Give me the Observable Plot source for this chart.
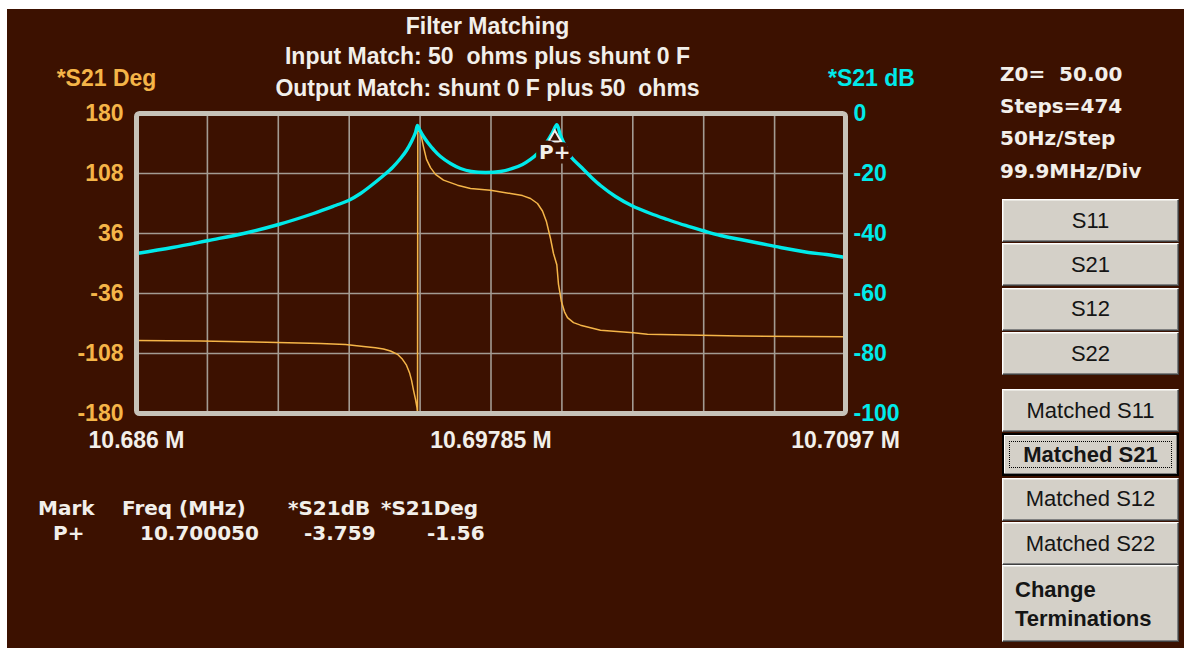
<!DOCTYPE html>
<html>
<head>
<meta charset="utf-8">
<script src="https://cdn.jsdelivr.net/npm/d3@7"></script>
<script src="https://cdn.jsdelivr.net/npm/@observablehq/plot@0.6"></script>
<style>
  body { margin: 0; background: #ffffff; width: 1184px; height: 648px; overflow: hidden; position: relative; }
  #panel { position: absolute; left: 7px; top: 9px; width: 1177px; height: 639px; background: #3c1100; }
  #chart { position: absolute; left: 0; top: 0; }
  #chart svg { display: block; }
  #chart text { white-space: pre; }
  .info { position: absolute; left: 1000px; font: bold 20px "DejaVu Sans"; color: #f2efea; white-space: pre; line-height: 1; }
  .cell { position: absolute; font: bold 20px "DejaVu Sans"; color: #f2efea; white-space: pre; line-height: 1; }
  .btn {
    position: absolute; left: 1002px; width: 177px; box-sizing: border-box;
    background: #d4d0c8; color: #151515; font: 22px "Liberation Sans";
    border-top: 1px solid #ffffff; border-left: 1px solid #ffffff;
    border-right: 1px solid #404040; border-bottom: 1px solid #404040;
    box-shadow: inset -1px -1px #808080, inset 1px 1px #e8e6e0;
    display: flex; align-items: center; justify-content: center;
  }
  .btn.focus { border: 2px solid #000; font-weight: bold; box-shadow: inset -1px -1px #808080, inset 1px 1px #ffffff; }
  .btn.focus::after { content: ""; position: absolute; left: 5px; right: 5px; top: 6px; bottom: 6px; border: 1px dotted #000; }
  .btn.wide { justify-content: flex-start; padding-left: 12px; font-weight: bold; line-height: 29px; }
</style>
</head>
<body>
<div id="panel"></div>
<div id="chart"></div>
<script>
// Sweep: 10.686 MHz .. 10.7097 MHz, 474 steps of 50 Hz
const freqStart = 10.686;
const freqStop = 10.7097;
const xTickValues = [10.686, 10.69785, 10.7097];
const degTicks = [180, 108, 36, -36, -108, -180];
const dbTicks = [0, -20, -40, -60, -80, -100];

// *S21 magnitude (dB)
const dbFreq = [
  10.686000, 10.687203, 10.688407, 10.689577, 10.690747, 10.691917, 10.692652,
  10.693087, 10.693488, 10.693889, 10.694257, 10.694557, 10.694825, 10.695025,
  10.695193, 10.695326, 10.695393, 10.695460, 10.695594, 10.695761, 10.695928,
  10.696162, 10.696496, 10.696830, 10.697198, 10.697666, 10.698168, 10.698569,
  10.698903, 10.699170, 10.699404, 10.699605, 10.699772, 10.699906, 10.700050,
  10.700173, 10.700340, 10.700541, 10.700842, 10.701176, 10.701510, 10.702012,
  10.702547, 10.703182, 10.703750, 10.704352, 10.704920, 10.705522, 10.706190,
  10.706859, 10.707527, 10.708463, 10.709065, 10.709700
];
const dbValue = [
  -46.67, -44.67, -42.33, -40.0, -37.0, -33.33, -30.67,
  -29.0, -26.67, -23.67, -20.67, -18.0, -15.0, -12.33,
  -9.33, -6.33, -4.0, -5.33, -7.67, -10.0, -12.0,
  -14.33, -16.67, -18.33, -19.33, -19.67, -19.33, -18.33,
  -17.0, -15.33, -13.33, -11.0, -8.67, -6.33, -3.759,
  -7.33, -11.0, -14.67, -17.67, -21.0, -24.0, -27.67,
  -30.67, -33.33, -35.33, -37.33, -39.0, -40.67, -42.0,
  -43.33, -44.67, -46.33, -47.0, -48.0
];

// *S21 phase (degrees)
const degFreq = [
  10.686000, 10.688139, 10.690346, 10.692151, 10.692986, 10.693588, 10.693989,
  10.694256, 10.694491, 10.694724, 10.694892, 10.695025, 10.695126, 10.695193,
  10.695259, 10.695326, 10.695376, 10.695393, 10.695403, 10.695493, 10.695594,
  10.695694, 10.695828, 10.695995, 10.696262, 10.696730, 10.697165, 10.697833,
  10.698502, 10.698903, 10.699170, 10.699404, 10.699571, 10.699705, 10.699839,
  10.699939, 10.700050, 10.700106, 10.700206, 10.700307, 10.700407, 10.700608,
  10.700841, 10.701510, 10.702613, 10.703081, 10.704853, 10.706190, 10.709700
];
const degValue = [
  -92.4, -93.0, -94.5, -96.0, -97.3, -99.6, -101.0,
  -102.5, -105.0, -109.0, -115.0, -122.0, -131.0, -140.0,
  -152.0, -163.0, -173.0, -179.0, 162.0, 157.0, 140.0,
  125.0, 115.0, 107.0, 100.0, 94.0, 90.0, 88.0,
  84.0, 81.5, 78.0, 72.0, 63.0, 50.0, 30.0,
  12.0, -1.56, -25.0, -46.0, -58.0, -65.0, -71.0,
  -74.0, -80.0, -83.0, -85.0, -86.0, -87.0, -88.0
];

// Marker readout
const markerName = ["P+"];
const markerFreq = [10.700050];
const markerDb = [-3.759];
const markerDeg = [-1.56];

const titleLines = [
  "Filter Matching",
  "Input Match: 50  ohms plus shunt 0 F",
  "Output Match: shunt 0 F plus 50  ohms"
];
const infoLines = ["Z0=  50.00", "Steps=474", "50Hz/Step", "99.9MHz/Div"];
const paramButtons = ["S11", "S21", "S12", "S22"];
const matchedButtons = ["Matched S11", "Matched S21", "Matched S12", "Matched S22"];
const activeButton = "Matched S21";
const tableHeader = ["Mark", "Freq (MHz)", "*S21dB", "*S21Deg"];

const BG = "#3c1100";
const ORANGE = "#f5b548";
const CYAN = "#00eaea";
const GRID = "#a39b92";
const FRAME = "#c6c2b8";
const WHITE = "#f2efea";

// dB shares the phase axis: 0 dB at +180°, -100 dB at -180°
const dbToDeg = (db) => 180 + db * 3.6;
const degToDb = (deg) => (deg - 180) / 3.6;

const magnitude = dbFreq.map((f, i) => ({freq: f, db: dbValue[i]}));
const phase = degFreq.map((f, i) => ({freq: f, deg: degValue[i]}));
const markers = markerName.map((n, i) => ({name: n, freq: markerFreq[i], db: markerDb[i], deg: markerDeg[i]}));
const gridFreqs = d3.range(11).map((i) => freqStart + i * (freqStop - freqStart) / 10);
const titleDy = [-80, -50, -18];

const titleMarks = titleLines.map((line, k) =>
  Plot.text([line], {frameAnchor: "top", dx: -3.5, dy: titleDy[k], lineAnchor: "bottom",
    fill: WHITE, fontSize: 23, fontWeight: "bold"}));

const chart = Plot.plot({
  width: 1184,
  height: 648,
  marginLeft: 136,
  marginRight: 339,
  marginTop: 113,
  marginBottom: 235,
  style: {background: "transparent", fontFamily: "Liberation Sans", overflow: "visible"},
  x: {domain: [freqStart, freqStop]},
  y: {domain: [-180, 180]},
  marks: [
    Plot.gridX(gridFreqs, {stroke: GRID, strokeOpacity: 1, strokeWidth: 1.6}),
    Plot.gridY(degTicks, {stroke: GRID, strokeOpacity: 1, strokeWidth: 1.6}),
    Plot.line(phase, {x: "freq", y: "deg", stroke: ORANGE, strokeWidth: 1.5}),
    Plot.line(magnitude, {x: "freq", y: (d) => dbToDeg(d.db), stroke: CYAN, strokeWidth: 3.4,
      curve: "catmull-rom"}),
    Plot.frame({stroke: FRAME, strokeWidth: 5, rx: 3}),
    // marker glyph and its name under the peak
    Plot.dot(markers, {x: "freq", y: (d) => dbToDeg(d.db), symbol: "triangle", r: 4.7, dy: 13, dx: -2,
      fill: BG, stroke: WHITE, strokeWidth: 2}),
    Plot.text(markers, {x: "freq", y: (d) => dbToDeg(d.db), text: "name", dy: 28, dx: -2,
      fontFamily: "DejaVu Sans", fontSize: 20, fontWeight: "bold", fill: WHITE,
      stroke: BG, strokeWidth: 9}),
    // axes
    Plot.axisY(degTicks, {anchor: "left", tickSize: 0, tickPadding: 13, tickFormat: (d) => String(d),
      fill: ORANGE, fontSize: 23, fontWeight: "bold", label: null}),
    Plot.axisY(degTicks, {anchor: "right", tickSize: 0, tickPadding: 8, tickFormat: (d) => String(degToDb(d)),
      fill: CYAN, fontSize: 23, fontWeight: "bold", label: null}),
    Plot.axisX(xTickValues, {anchor: "bottom", tickSize: 0, tickPadding: 18, tickFormat: (d) => d + " M",
      fill: WHITE, fontSize: 23, fontWeight: "bold", label: null}),
    // axis titles
    Plot.text(["*S21 Deg"], {frameAnchor: "top-left", dx: -30, dy: -28, lineAnchor: "bottom",
      textAnchor: "middle", fill: ORANGE, fontSize: 23, fontWeight: "bold"}),
    Plot.text(["*S21 dB"], {frameAnchor: "top-right", dx: 26, dy: -28, lineAnchor: "bottom",
      textAnchor: "middle", fill: CYAN, fontSize: 23, fontWeight: "bold"}),
    ...titleMarks
  ]
});
document.getElementById("chart").append(chart);

// instrument settings
infoLines.forEach((s, i) => {
  const el = document.createElement("div");
  el.className = "info";
  el.textContent = s;
  el.style.top = (64 + i * 32.2) + "px";
  document.body.append(el);
});

// readout table
const tableRow = [markerName[0], markerFreq[0].toFixed(6), markerDb[0].toFixed(3), markerDeg[0].toFixed(2)];
const headerX = [38, 122, 288, 381];
const rowX = [53, 140, 304, 427];
tableHeader.forEach((s, i) => {
  const el = document.createElement("div");
  el.className = "cell"; el.textContent = s;
  el.style.left = headerX[i] + "px"; el.style.top = "498px";
  document.body.append(el);
});
tableRow.forEach((s, i) => {
  const el = document.createElement("div");
  el.className = "cell"; el.textContent = s;
  el.style.left = rowX[i] + "px"; el.style.top = "523px";
  document.body.append(el);
});

// buttons
function addButton(label, top, height, extra) {
  const el = document.createElement("div");
  el.className = "btn" + (extra ? " " + extra : "");
  el.style.top = top + "px";
  el.style.height = height + "px";
  const span = document.createElement("span");
  span.innerHTML = label;
  el.append(span);
  document.body.append(el);
}
paramButtons.forEach((b, i) => addButton(b, 199 + i * 44.4, 43));
matchedButtons.forEach((b, i) => addButton(b, 389 + i * 44.4, 43, b === activeButton ? "focus" : ""));
addButton("Change<br>Terminations", 565, 77, "wide");
</script>
</body>
</html>
